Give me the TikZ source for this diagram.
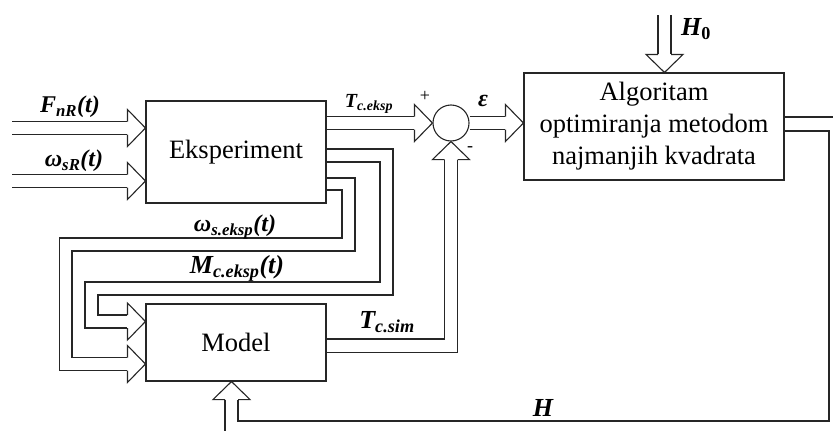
\documentclass[tikz,border=0pt]{standalone}
\usepackage{fontspec}
\setmainfont{Liberation Serif}
\usetikzlibrary{calc}

\tikzset{
  blok/.style={draw,rectangle,inner sep=0pt,align=center,font=\fontsize{26.5}{32}\selectfont},
  sig/.style={inner sep=0pt,font=\bfseries\itshape\fontsize{24}{28}\selectfont},
  bigsig/.style={inner sep=0pt,font=\bfseries\itshape\fontsize{26}{30}\selectfont},
  znak/.style={inner sep=0pt,font=\fontsize{18}{20}\selectfont},
  bhead/.pic={\draw (-18,6.5) -- (-18,18.5) -- (0,0) -- (-18,-18.5) -- (-18,-6.5);}
}

\begin{document}
\begin{tikzpicture}[x=1pt,y=-1pt,line width=1.1pt,draw=black!85]
\useasboundingbox (0,0) rectangle (833,431);
\clip (0,0) rectangle (833,431);

% blocks
\node[blok,minimum width=180pt,minimum height=102pt] (exp) at (236,152) {Eksperiment};
\node[blok,minimum width=180pt,minimum height=77pt] (mod) at (236,342.5) {Model};
\node[blok,minimum width=260pt,minimum height=107pt] (alg) at (654,126.5) {Algoritam\\optimiranja metodom\\najmanjih kvadrata};
\node[draw,circle,minimum size=36pt,inner sep=0pt] (sum) at (451,123) {};

% inputs of the experiment
\coordinate (f0) at (12,128);
\coordinate (w0) at (12,181);
\coordinate (f1) at (exp.west |- f0);
\coordinate (w1) at (exp.west |- w0);
\draw ($(f0)+(0,-6.5)$) -- ($(f1)+(-18,-6.5)$);
\draw ($(f0)+(0,6.5)$) -- ($(f1)+(-18,6.5)$);
\pic at (f1) {bhead};
\draw ($(w0)+(0,-6.5)$) -- ($(w1)+(-18,-6.5)$);
\draw ($(w0)+(0,6.5)$) -- ($(w1)+(-18,6.5)$);
\pic at (w1) {bhead};

% T c.eksp into the sum
\coordinate (t0) at (exp.east |- sum);
\draw ($(t0)+(0,-6.5)$) -- ($(sum.west)+(-18,-6.5)$);
\draw ($(t0)+(0,6.5)$) -- ($(sum.west)+(-18,6.5)$);
\pic at (sum.west) {bhead};

% error into the algorithm
\coordinate (e1) at (alg.west |- sum);
\draw ($(sum.east)+(0,-6.5)$) -- ($(e1)+(-18,-6.5)$);
\draw ($(sum.east)+(0,6.5)$) -- ($(e1)+(-18,6.5)$);
\pic at (e1) {bhead};

% H0 from above
\coordinate (h0) at (664.5,15);
\coordinate (h1) at (alg.north -| h0);
\draw ($(h0)+(-6.5,0)$) -- ($(h1)+(-6.5,-18)$);
\draw ($(h0)+(6.5,0)$) -- ($(h1)+(6.5,-18)$);
\pic[rotate=-90] at (h1) {bhead};

% feedback H into the model
\coordinate (hq) at ($(mod.south)+(-4.5,0)$);
\draw ($(alg.east)+(0,4.5)$) -| (829,421) -| ($(hq)+(6.5,18)$);
\draw ($(alg.east)+(0,-9.5)$) -| (845,440) -| ($(hq)+(-6.5,18)$);
\pic[rotate=90] at (hq) {bhead};

% T c.sim into the sum
\draw ($(mod.east)+(0,-3.5)$) -| ($(sum.south)+(-6.5,18)$);
\draw ($(mod.east)+(0,10)$) -| ($(sum.south)+(6.5,18)$);
\pic[rotate=90] at (sum.south) {bhead};

% measured signals back into the model
\coordinate (m1) at ($(mod.west)+(0,-21)$);
\coordinate (m2) at ($(mod.west)+(0,21.5)$);
\draw ($(exp.east)+(0,-3)$) -| (393,295) -| (98,315) -- ($(m1)+(-18,-6.5)$);
\draw ($(exp.east)+(0,10)$) -| (380,282) -| (85,328) -- ($(m1)+(-18,6.5)$);
\pic at (m1) {bhead};
\draw ($(exp.east)+(0,26)$) -| (355,251) -| (72,357.5) -- ($(m2)+(-18,-6.5)$);
\draw ($(exp.east)+(0,38)$) -| (342,238) -| (59.5,370.5) -- ($(m2)+(-18,6.5)$);
\pic at (m2) {bhead};

% labels
\node[sig] (lf) at (70,107) {F\textsubscript{nR}(t)};
\node[sig] (lw) at (74,161) {ω\textsubscript{sR}(t)};
\node[sig,font=\bfseries\itshape\fontsize{20}{24}\selectfont] (lt) at (369,104) {T\textsubscript{c.eksp}};
\node[znak] (lp) at (425,96) {+};
\node[znak] (lm) at (470,149) {-};
\node[sig] (le) at (483,101) {ε};
\node[bigsig] (lh0) at (696,29) {H\textsubscript{\upshape 0}};
\node[sig] (lws) at (235,227) {ω\textsubscript{s.eksp}(t)};
\node[bigsig] (lmc) at (237,268) {M\textsubscript{c.eksp}(t)};
\node[bigsig] (lts) at (387,322) {T\textsubscript{c.sim}};
\node[bigsig] (lhh) at (543,408) {H};
\end{tikzpicture}
\end{document}
